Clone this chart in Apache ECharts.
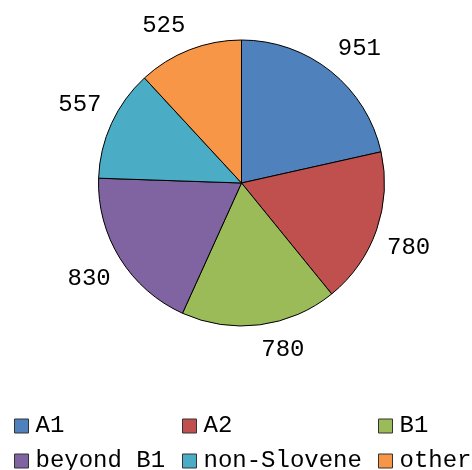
<!DOCTYPE html>
<html>
<head>
<meta charset="utf-8">
<script src="https://cdn.jsdelivr.net/npm/echarts@6/dist/echarts.min.js"></script>
<style>
html,body{margin:0;padding:0;background:#fff;}
#c{width:472px;height:470px;}
</style>
</head>
<body>
<div id="c"></div>
<script>
var categories = ['A1', 'A2', 'B1', 'beyond B1', 'non-Slovene', 'other'];
var values = [951, 780, 780, 830, 557, 525];
var colors = ['#4f81bd', '#c0504d', '#9bbb59', '#8064a2', '#4bacc6', '#f79646'];

var FONT = '"Liberation Mono", "DejaVu Sans Mono", monospace';
var chart = echarts.init(document.getElementById('c'));

var total = values.reduce(function (a, b) { return a + b; }, 0);
function midUpper(idx) {
  var cum = 0;
  for (var i = 0; i < idx; i++) cum += values[i];
  var mid = (cum + values[idx] / 2) / total * 2 * Math.PI;
  return Math.cos(mid) > 0;
}

function legendCol(names, left) {
  return {
    orient: 'vertical',
    left: left,
    top: 414,
    height: 70,
    padding: 0,
    data: names,
    itemWidth: 14,
    itemHeight: 14,
    itemGap: 11,
    icon: 'rect',
    itemStyle: { borderColor: '#333', borderWidth: 1 },
    textStyle: { fontFamily: FONT, fontSize: 24, lineHeight: 24, color: '#000', padding: [0, 0, 0, 2] },
    selectedMode: false
  };
}

chart.setOption({
  animation: false,
  color: colors,
  legend: [
    legendCol([categories[0], categories[3]], 14),
    legendCol([categories[1], categories[4]], 182),
    legendCol([categories[2], categories[5]], 378)
  ],
  series: [{
    type: 'pie',
    center: [241.5, 183],
    radius: 143,
    startAngle: 90,
    clockwise: true,
    avoidLabelOverlap: false,
    data: categories.map(function (n, i) { return { name: n, value: values[i] }; }),
    itemStyle: { borderColor: '#000', borderWidth: 1 },
    label: {
      show: true,
      position: 'outside',
      formatter: '{c}',
      fontFamily: FONT,
      fontSize: 24,
      lineHeight: 28,
      color: '#000',
      distanceToLabelLine: 0
    },
    labelLine: { show: false, length: 11, length2: 0 },
    labelLayout: function (p) {
      return { verticalAlign: midUpper(p.dataIndex) ? 'bottom' : 'top' };
    },
    emphasis: { disabled: true }
  }]
});
</script>
</body>
</html>
